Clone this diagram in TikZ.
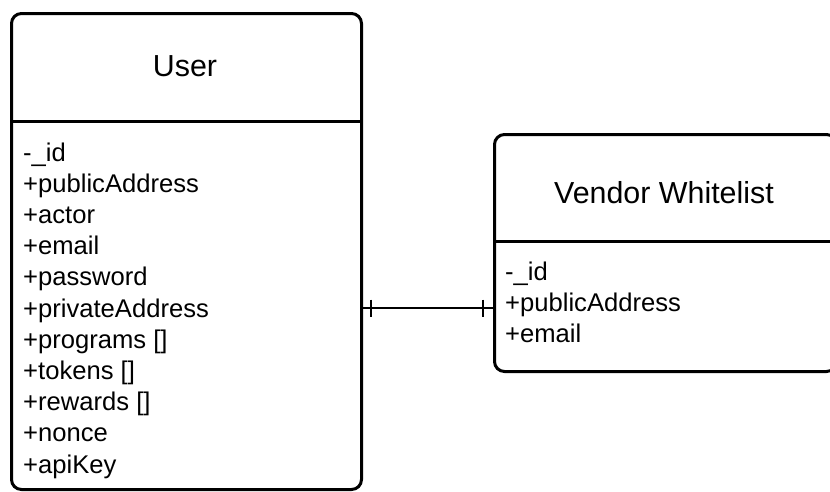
\documentclass[tikz,border=0pt]{standalone}
\usepackage{fontspec}
\setmainfont{Liberation Sans}
\usetikzlibrary{positioning}

\begin{document}
\begin{tikzpicture}[
    x=1pt, y=-1pt,
    cbox/.style={rectangle, draw=black, line width=3pt, rounded corners=10pt,
                 anchor=north west, inner sep=0pt},
    cline/.style={line width=3pt},
    ctitle/.style={inner sep=0pt, font=\fontsize{30.4}{36}\selectfont},
    cattr/.style={anchor=base west, inner sep=0pt,
                  font=\fontsize{25.6}{31}\selectfont},
    rel/.style={line width=2pt},
  ]
    \useasboundingbox (0,0) rectangle (830,491);
    \clip (0,0) rectangle (830,491);

    % User class
    \node[cbox, minimum width=350pt, minimum height=476pt] (user) at (10,12) {};
    \draw[cline] ([yshift=-109pt]user.north west) -- ([yshift=-109pt]user.north east);
    \node[ctitle] (usertitle) at (185,66) {User};
    \foreach \attr [count=\i from 0] in {-\_id, +publicAddress, +actor, +email,
        +password, +privateAddress, +programs [], +tokens [], +rewards [],
        +nonce, +apiKey}
      \node[cattr] (uattr\i) at (23,161+31.2*\i) {\attr};

    % Vendor Whitelist class
    \node[cbox, minimum width=342pt, minimum height=237pt] (vendor) at (493,133) {};
    \draw[cline] ([yshift=-108pt]vendor.north west) -- ([yshift=-108pt]vendor.north east);
    \node[ctitle] (vendortitle) at (664,193) {Vendor Whitelist};
    \foreach \attr [count=\i from 0] in {-\_id, +publicAddress, +email}
      \node[cattr] (vattr\i) at (505,280+31*\i) {\attr};

    % User -- Vendor Whitelist (one to one)
    \coordinate (vin) at (vendor.west |- 0,308);
    \coordinate (uout) at (user.east |- vin);
    \draw[rel] (uout) -- (vin);
    \draw[rel] ([xshift=8pt,yshift=8.5pt]uout) -- ([xshift=8pt,yshift=-8.5pt]uout);
    \draw[rel] ([xshift=-10pt,yshift=8.5pt]vin) -- ([xshift=-10pt,yshift=-8.5pt]vin);
\end{tikzpicture}
\end{document}
